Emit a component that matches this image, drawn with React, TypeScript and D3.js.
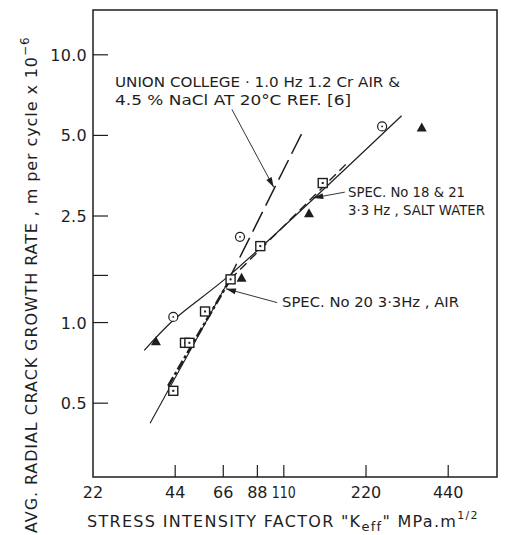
import { useEffect, useRef } from "react";
import * as d3 from "d3";

// stress intensity factor (MPa.m^1/2) vs crack growth rate (m/cycle x 1e-6)
const xTicks = [22, 44, 66, 88, 110, 220, 440];
const yTicks = [0.5, 1.0, 1.5, 2.5, 5.0, 10.0];
const yTickLabels = ["0.5", "1.0", "", "2.5", "5.0", "10.0"];

const circleK = [43.3, 76, 252];
const circleRate = [1.05, 2.09, 5.4];
const triangleK = [37.4, 77, 136, 352];
const triangleRate = [0.852, 1.47, 2.56, 5.35];
const squareK = [43.3, 47.8, 49.6, 56.6, 70.2, 90.2, 152.7];
const squareRate = [0.556, 0.84, 0.84, 1.1, 1.45, 1.93, 3.32];

// fitted lines
const shallowK = [33.9, 43.3, 70, 297];
const shallowRate = [0.787, 1.02, 1.51, 5.92];
const airK = [35.6, 71];
const airRate = [0.421, 1.51];
const airHeavyK = [41.5, 70];
const airHeavyRate = [0.58, 1.45];
const saltK = [70, 187];
const saltRate = [1.45, 3.93];
const unionK = [68, 129];
const unionRate = [1.4, 5.17];

// leaders: [fromK, fromRate, tipK, tipRate]
const leaders = [
  [71, 6.25, 101, 3.2],
  [184, 3.07, 141, 2.92],
  [104, 1.187, 67.5, 1.338],
];

const W = 508;
const H = 535;
const ink = "#1e1e1e";
const font = "'DejaVu Sans', sans-serif";

export default function App() {
  const ref = useRef<SVGSVGElement | null>(null);

  useEffect(() => {
    if (!ref.current) return;
    const svg = d3.select(ref.current);
    svg.selectAll("*").remove();

    const x = d3.scaleLog().domain([22, 664]).range([93, 497]);
    const y = d3.scaleLog().domain([0.265, 14.7]).range([477, 10]);

    // frame
    svg
      .append("rect")
      .attr("x", x.range()[0])
      .attr("y", y.range()[1])
      .attr("width", x.range()[1] - x.range()[0])
      .attr("height", y.range()[0] - y.range()[1])
      .attr("fill", "none")
      .attr("stroke", ink)
      .attr("stroke-width", 1.5);

    // x ticks (inward)
    const xg = svg.append("g");
    xg.selectAll("line")
      .data(xTicks.slice(1))
      .join("line")
      .attr("x1", (d) => x(d))
      .attr("x2", (d) => x(d))
      .attr("y1", 477)
      .attr("y2", 465)
      .attr("stroke", ink)
      .attr("stroke-width", 1.2);
    xg.selectAll("text")
      .data(xTicks)
      .join("text")
      .attr("x", (d) => x(d))
      .attr("y", 498)
      .attr("text-anchor", "middle")
      .attr("font-family", font)
      .attr("font-size", 16)
      .attr("fill", ink)
      .text((d) => String(d))
      // the lettering's "1" is narrow
      .filter((d) => String(d).startsWith("1"))
      .attr("textLength", 24)
      .attr("lengthAdjust", "spacingAndGlyphs");

    // y ticks (inward)
    const yg = svg.append("g");
    yg.selectAll("line")
      .data(yTicks)
      .join("line")
      .attr("x1", 93)
      .attr("x2", 108)
      .attr("y1", (d) => y(d))
      .attr("y2", (d) => y(d))
      .attr("stroke", ink)
      .attr("stroke-width", 1.2);
    yg.selectAll("text")
      .data(yTicks)
      .join("text")
      .attr("x", 87)
      .attr("y", (d) => y(d) + 6)
      .attr("text-anchor", "end")
      .attr("font-family", font)
      .attr("font-size", 16)
      .attr("letter-spacing", 0.3)
      .attr("fill", ink)
      .text((d, i) => yTickLabels[i]);

    const drawLine = (
      ks: number[],
      rs: number[],
      width: number,
      dash: string | null,
      curve = false
    ) => {
      const pts = ks.map((k, i) => [x(k), y(rs[i])] as [number, number]);
      const gen = d3.line().curve(curve ? d3.curveCatmullRom : d3.curveLinear);
      svg
        .append("path")
        .attr("d", gen(pts))
        .attr("fill", "none")
        .attr("stroke", ink)
        .attr("stroke-width", width)
        .attr("stroke-dasharray", dash);
    };

    drawLine(shallowK, shallowRate, 1.2, null, true);
    drawLine(airK, airRate, 1.1, null);
    drawLine(airHeavyK, airHeavyRate, 2.6, "10 3 3 3");
    drawLine(saltK, saltRate, 1.4, "9 5");
    drawLine(unionK, unionRate, 1.5, "22 7");

    // leaders with arrowheads
    leaders.forEach(([k0, r0, k1, r1]) => {
      const x0 = x(k0),
        y0 = y(r0),
        x1 = x(k1),
        y1 = y(r1);
      svg
        .append("line")
        .attr("x1", x0)
        .attr("y1", y0)
        .attr("x2", x1)
        .attr("y2", y1)
        .attr("stroke", ink)
        .attr("stroke-width", 0.9);
      const a = Math.atan2(y1 - y0, x1 - x0);
      const len = 10,
        hw = 3;
      const bx = x1 - len * Math.cos(a),
        by = y1 - len * Math.sin(a);
      const px = -Math.sin(a) * hw,
        py = Math.cos(a) * hw;
      svg
        .append("path")
        .attr("d", `M${x1},${y1}L${bx + px},${by + py}L${bx - px},${by - py}Z`)
        .attr("fill", ink);
    });

    // markers
    const circles = svg.append("g");
    circleK.forEach((k, i) => {
      circles
        .append("circle")
        .attr("cx", x(k))
        .attr("cy", y(circleRate[i]))
        .attr("r", 4.5)
        .attr("fill", "white")
        .attr("stroke", ink)
        .attr("stroke-width", 1.2);
      circles
        .append("circle")
        .attr("cx", x(k))
        .attr("cy", y(circleRate[i]))
        .attr("r", 0.9)
        .attr("fill", ink);
    });
    const squares = svg.append("g");
    squareK.forEach((k, i) => {
      squares
        .append("rect")
        .attr("x", x(k) - 4.5)
        .attr("y", y(squareRate[i]) - 4.5)
        .attr("width", 9)
        .attr("height", 9)
        .attr("fill", "white")
        .attr("stroke", ink)
        .attr("stroke-width", 1.4);
      squares
        .append("rect")
        .attr("x", x(k) - 1)
        .attr("y", y(squareRate[i]) - 1)
        .attr("width", 2)
        .attr("height", 2)
        .attr("fill", ink);
    });
    svg
      .append("g")
      .selectAll("path")
      .data(triangleK)
      .join("path")
      .attr("transform", (d, i) => `translate(${x(d)},${y(triangleRate[i])})`)
      .attr("d", "M0,-5L5,4L-5,4Z")
      .attr("fill", ink);

    // annotations
    const label = (tx: number, ty: number, str: string, len: number, size = 14) =>
      svg
        .append("text")
        .attr("x", tx)
        .attr("y", ty)
        .attr("font-family", font)
        .attr("font-size", size)
        .attr("fill", ink)
        .attr("textLength", len)
        .attr("lengthAdjust", "spacingAndGlyphs")
        .text(str);

    label(115, 87, "UNION COLLEGE · 1.0 Hz  1.2 Cr  AIR &", 285);
    label(115, 105, "4.5 % NaCl  AT  20°C  REF. [6]", 236);
    label(348, 197, "SPEC. No 18 & 21", 117);
    label(348, 215, "3·3 Hz , SALT WATER", 137);
    label(282, 307, "SPEC. No 20   3·3Hz , AIR", 177);

    // axis titles
    const xt = svg
      .append("text")
      .attr("x", 87)
      .attr("y", 527)
      .attr("font-family", font)
      .attr("font-size", 16)
      .attr("letter-spacing", 1.3)
      .attr("fill", ink);
    xt.append("tspan").text('STRESS INTENSITY FACTOR "K');
    xt.append("tspan").attr("font-size", 13).attr("dy", 4).text("eff");
    xt.append("tspan").attr("dy", -4).text('"  MPa.m');
    xt.append("tspan").attr("font-size", 11).attr("dy", -8).text("1/2");

    const yt = svg
      .append("text")
      .attr("transform", "translate(37,533) rotate(-90)")
      .attr("font-family", font)
      .attr("font-size", 16)
      .attr("letter-spacing", 0.9)
      .attr("fill", ink);
    yt.append("tspan").text("AVG. RADIAL CRACK GROWTH RATE , m per cycle x 10");
    yt.append("tspan").attr("font-size", 12).attr("dy", -8).text("−6");
  }, []);

  return (
    <svg
      ref={ref}
      width={W}
      height={H}
      style={{ position: "absolute", left: 0, top: 0, background: "white" }}
    />
  );
}
